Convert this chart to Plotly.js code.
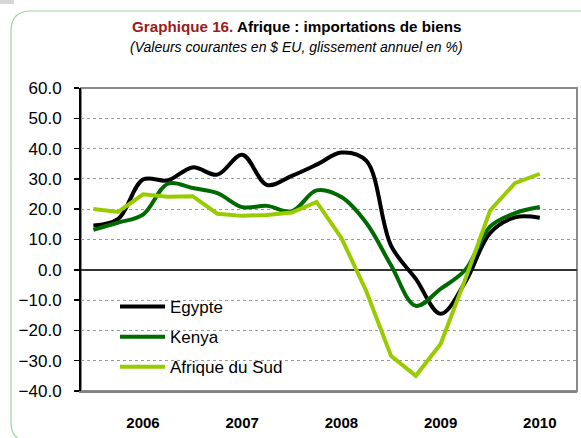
<!DOCTYPE html>
<html>
<head>
<meta charset="utf-8">
<script src="https://cdn.plot.ly/plotly-3.0.1.min.js"></script>
<style>
  html, body { margin: 0; padding: 0; background: #ffffff; }
  #chart { width: 581px; height: 438px; }
</style>
</head>
<body>
<div id="chart"></div>
<script>
// ---- Data (quarterly, year-on-year % change) ----
const quarters = [
  "T1 2006", "T2 2006", "T3 2006", "T4 2006",
  "T1 2007", "T2 2007", "T3 2007", "T4 2007",
  "T1 2008", "T2 2008", "T3 2008", "T4 2008",
  "T1 2009", "T2 2009", "T3 2009", "T4 2009",
  "T1 2010", "T2 2010", "T3 2010"
];
const egypte = [14.6, 16.8, 29.8, 29.5, 33.8, 31.4, 38.0, 28.0, 31.0, 34.7, 38.7, 36.0, 8.0, -3.0, -14.5, -4.0, 12.2, 17.3, 17.2];
const kenya = [13.2, 15.6, 18.2, 28.4, 27.0, 25.3, 20.7, 21.1, 19.3, 26.2, 24.0, 15.5, 1.5, -11.9, -6.3, 0.0, 14.3, 18.7, 20.7];
const afriqueDuSud = [20.1, 19.1, 24.9, 24.1, 24.3, 18.5, 17.8, 18.1, 18.9, 22.4, 10.5, -7.0, -28.4, -35.0, -24.5, -3.0, 19.6, 28.6, 31.7];
const yearTickCategories = ["T3 2006", "T3 2007", "T3 2008", "T3 2009", "T3 2010"];
const yearTickLabels = ["2006", "2007", "2008", "2009", "2010"];
const yearBoundaries = [3.5, 7.5, 11.5, 15.5, 19.5];

// ---- Layout geometry helpers (pixels -> paper) ----
const W = 581, H = 438;
const M = { l: 81, r: 4, t: 88, b: 47 };
const PW = W - M.l - M.r, PH = H - M.t - M.b;
const px = x => (x - M.l) / PW;
const py = y => (H - M.b - y) / PH;
const P = (x, y) => px(x).toFixed(5) + "," + py(y).toFixed(5);

// rounded green frame
const fL = 11, fT = 11, fR = 620, fB = 442, rad = 20;
const framePath =
  "M" + P(fL, fT + rad) +
  " L" + P(fL, fB - rad) +
  " Q" + P(fL, fB) + " " + P(fL + rad, fB) +
  " L" + P(fR, fB) +
  " L" + P(fR, fT) +
  " L" + P(fL + rad, fT) +
  " Q" + P(fL, fT) + " " + P(fL, fT + rad) + " Z";

const FONT = "Liberation Sans, Arial, sans-serif";

const traces = [
  { name: "Egypte", y: egypte, color: "#000000", shape: "spline" },
  { name: "Kenya", y: kenya, color: "#006a00", shape: "spline" },
  { name: "Afrique du Sud", y: afriqueDuSud, color: "#99cc00", shape: "linear" }
].map((s, i) => ({
  type: "scatter",
  mode: "lines",
  name: s.name,
  x: quarters,
  y: s.y,
  legendgroup: "g" + i,
  line: { color: s.color, width: 4, shape: s.shape, smoothing: 1 },
  hoverinfo: "skip"
}));

const layout = {
  width: W,
  height: H,
  margin: M,
  paper_bgcolor: "#ffffff",
  plot_bgcolor: "#ffffff",
  font: { family: FONT, color: "#000000", size: 17 },
  showlegend: true,
  legend: {
    x: px(115), y: py(289), xanchor: "left", yanchor: "top",
    bgcolor: "rgba(0,0,0,0)",
    font: { family: FONT, size: 17, color: "#000000" },
    traceorder: "grouped",
    tracegroupgap: 5,
    itemwidth: 45
  },
  xaxis: {
    type: "category",
    categoryorder: "array",
    categoryarray: quarters,
    range: [-0.5, 19.5],
    tickmode: "array",
    tickvals: yearTickCategories,
    ticktext: yearTickLabels,
    ticks: "",
    ticklabelstandoff: 17,
    tickfont: { family: FONT, size: 15, color: "#000000", weight: "bold" },
    showgrid: false,
    zeroline: false,
    showline: true,
    linecolor: "#808080",
    linewidth: 2,
    fixedrange: true
  },
  xaxis2: {
    type: "linear",
    overlaying: "x",
    anchor: "free",
    position: 0.4,
    range: [-0.5, 19.5],
    tickmode: "array",
    tickvals: yearBoundaries,
    ticks: "outside",
    ticklen: 5,
    tickwidth: 1.5,
    tickcolor: "#404040",
    showticklabels: false,
    showgrid: true,
    gridcolor: "#b8b8b8",
    gridwidth: 2,
    zeroline: false,
    showline: false
  },
  xaxis3: {
    type: "linear",
    overlaying: "x",
    anchor: "free",
    position: 0.4,
    range: [-0.5, 19.5],
    tickmode: "array",
    tickvals: yearBoundaries,
    ticks: "inside",
    ticklen: 5,
    tickwidth: 1.5,
    tickcolor: "#404040",
    showticklabels: false,
    showgrid: false,
    zeroline: false,
    showline: false
  },
  yaxis: {
    range: [-40, 60],
    dtick: 10,
    tick0: 0,
    tickformat: ".1f",
    ticks: "outside",
    ticklen: 5,
    tickwidth: 1.5,
    tickcolor: "#000000",
    ticklabelstandoff: 9,
    tickfont: { family: FONT, size: 17, color: "#000000" },
    showgrid: true,
    gridcolor: "#9a9a9a",
    gridwidth: 1,
    griddash: "dot",
    zeroline: true,
    zerolinecolor: "#333333",
    zerolinewidth: 1.5,
    showline: true,
    linecolor: "#000000",
    linewidth: 2,
    fixedrange: true
  },
  shapes: [
    { type: "rect", xref: "paper", yref: "paper", x0: 0, x1: 1, y0: 0, y1: 1,
      line: { color: "#8a8a8a", width: 2 }, fillcolor: "rgba(0,0,0,0)", layer: "between" },
    { type: "path", xref: "paper", yref: "paper", path: framePath,
      line: { color: "#9fd49f", width: 1.2 }, fillcolor: "rgba(0,0,0,0)", layer: "below" },
    { type: "rect", xref: "paper", yref: "paper",
      x0: px(0), x1: px(14), y0: py(4), y1: py(0),
      line: { width: 0 }, fillcolor: "#d6d6d6", layer: "below" }
  ],
  annotations: [
    { xref: "paper", yref: "paper", x: px(296), y: py(27), xanchor: "center", yanchor: "middle",
      showarrow: false,
      text: "<span style='color:#9b1b1b'><b>Graphique 16.</b></span><b> Afrique : importations de biens</b>",
      font: { family: FONT, size: 15.2, color: "#000000" } },
    { xref: "paper", yref: "paper", x: px(296), y: py(47), xanchor: "center", yanchor: "middle",
      showarrow: false,
      text: "<i>(Valeurs courantes en $ EU, glissement annuel en %)</i>",
      font: { family: FONT, size: 14, color: "#000000" } }
  ]
};

Plotly.newPlot("chart", traces, layout, { displayModeBar: false, staticPlot: true });
</script>
</body>
</html>
